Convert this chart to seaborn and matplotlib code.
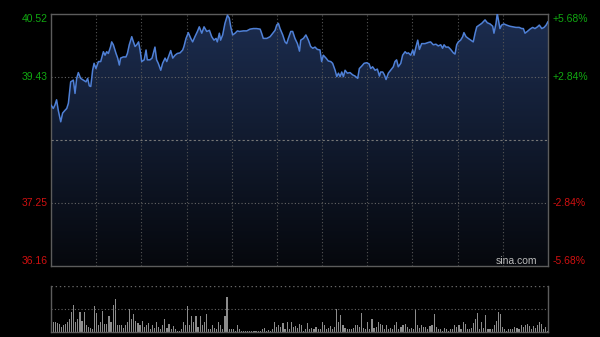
import numpy as np
import pandas as pd
import matplotlib
matplotlib.use("Agg")
import matplotlib.pyplot as plt
import seaborn as sns
from matplotlib.colors import LinearSegmentedColormap
import matplotlib.transforms as mtransforms

# ---------------- data ----------------
minutes = [
    0, 1.1, 1.9, 2.7, 3.5, 4.7, 5.6, 6.8, 7.6, 8.4,
    9.5, 10.8, 11.6, 12.4, 13.2, 14.3, 15.6, 16.9, 17.7, 18.5,
    19.2, 20.1, 20.8, 21.7, 22.9, 24.0, 25.3, 26.1, 26.9, 27.7,
    28.8, 29.3, 30.1, 31.4, 32.2, 33.0, 33.6, 34.9, 36.2, 36.9,
    37.8, 39.0, 39.8, 40.6, 41.4, 42.3, 43.0, 43.8, 45.0, 45.9,
    46.5, 47.8, 48.8, 49.4, 50.2, 51.0, 51.8, 53.0, 53.9, 55.1,
    55.9, 56.7, 57.8, 58.8, 59.9, 61.0, 62.3, 63.6, 64.2, 65.2,
    66.3, 67.5, 68.4, 69.5, 70.7, 71.6, 72.8, 73.9, 75.2, 76.5,
    77.6, 78.7, 79.7, 80.3, 81.3, 81.9, 82.9, 84.0, 85.2, 86.1,
    86.8, 87.7, 88.9, 90.0, 91.0, 92.9, 94.5, 96.1, 97.7, 99.3,
    101.0, 101.7, 102.5, 104.2, 105.8, 107.1, 108.2, 109.0, 109.8, 110.6,
    111.9, 113.0, 113.8, 114.6, 115.8, 116.7, 117.8, 119.0, 120.0,
    120.6, 121.9, 123.1, 124.3, 125.4, 126.4, 127.5, 128.6, 129.9, 130.7,
    131.5, 132.8, 133.9, 135.1, 136.0, 137.2, 138.0, 138.8, 139.6, 140.4,
    141.2, 142.0, 143.1, 144.4, 145.7, 146.8, 148.1, 148.9, 150.0, 151.2,
    152.4, 153.6, 154.4, 155.3, 156.5, 157.6, 158.6, 159.2, 160.2, 161.0,
    161.8, 162.9, 164.0, 165.3, 166.1, 166.9, 167.7, 168.9, 169.8, 171.0,
    171.8, 172.6, 173.7, 174.7, 175.3, 176.3, 177.1, 177.9, 179.0, 180.6,
    182.2, 183.3, 184.6, 185.9, 187.0, 188.2, 189.1, 189.8, 190.7, 191.9,
    193.0, 194.3, 195.1, 195.9, 196.7, 197.8, 198.8, 199.4, 200.4, 201.5,
    202.7, 203.9, 204.8, 205.6, 206.8, 208.0, 208.8, 209.6, 210.7, 212.0,
    213.3, 213.9, 214.9, 215.5, 216.2, 216.8, 217.6, 218.7, 220.0, 221.6,
    223.2, 224.5, 226.1, 227.3, 228.1, 228.9, 230.0, 231.3, 232.6, 233.7,
    234.9, 235.8, 237.0, 238.1, 239.1, 240.0,
]
prices = [
    38.94, 38.88, 38.94, 39.03, 38.85, 38.65, 38.80, 38.85, 38.88, 38.97,
    39.34, 39.37, 39.14, 39.40, 39.50, 39.40, 39.37, 39.34, 39.40, 39.27,
    39.26, 39.54, 39.66, 39.57, 39.69, 39.69, 39.86, 39.80, 39.86, 39.83,
    39.95, 40.03, 39.98, 39.83, 39.75, 39.63, 39.75, 39.77, 39.77, 39.83,
    39.98, 40.12, 40.03, 39.95, 39.98, 40.03, 39.89, 39.69, 39.72, 39.89,
    39.72, 39.72, 39.75, 39.83, 39.94, 39.72, 39.66, 39.54, 39.66, 39.75,
    39.69, 39.77, 39.88, 39.75, 39.80, 39.83, 39.84, 39.89, 39.95, 40.09,
    40.19, 40.09, 40.03, 40.12, 40.21, 40.29, 40.18, 40.29, 40.21, 40.23,
    40.12, 40.06, 40.09, 40.03, 40.18, 40.06, 40.15, 40.35, 40.49, 40.44,
    40.29, 40.15, 40.18, 40.22, 40.21, 40.22, 40.22, 40.25, 40.26, 40.26,
    40.25, 40.18, 40.09, 40.09, 40.12, 40.18, 40.23, 40.32, 40.35, 40.26,
    40.15, 40.03, 40.00, 40.09, 40.21, 40.21, 40.09, 40.00, 39.87,
    40.06, 40.09, 40.15, 40.06, 39.95, 39.92, 39.94, 39.90, 39.89, 39.69,
    39.80, 39.75, 39.70, 39.69, 39.66, 39.54, 39.43, 39.49, 39.43, 39.51,
    39.43, 39.54, 39.49, 39.50, 39.46, 39.44, 39.40, 39.57, 39.61, 39.66,
    39.67, 39.65, 39.57, 39.60, 39.54, 39.56, 39.44, 39.51, 39.51, 39.46,
    39.38, 39.49, 39.54, 39.60, 39.69, 39.72, 39.60, 39.66, 39.80, 39.86,
    39.83, 39.84, 39.80, 39.89, 39.80, 39.95, 40.06, 39.90, 40.00, 40.00,
    40.02, 40.03, 39.98, 39.99, 39.96, 39.98, 39.92, 39.98, 39.94, 39.94,
    39.90, 39.84, 39.82, 39.98, 40.03, 40.06, 40.12, 40.19, 40.12, 40.09,
    40.06, 40.03, 40.18, 40.29, 40.32, 40.35, 40.38, 40.41, 40.36, 40.34,
    40.30, 40.18, 40.35, 40.52, 40.38, 40.26, 40.32, 40.34, 40.32, 40.30,
    40.29, 40.28, 40.28, 40.26, 40.26, 40.18, 40.21, 40.25, 40.28, 40.26,
    40.29, 40.32, 40.26, 40.28, 40.32, 40.38,
]

vol_minutes = list(range(241))
volumes = [
    25, 22, 21, 20, 17, 10, 14, 17, 21, 28, 43,
    59, 22, 29, 43, 24, 42, 14, 10, 8, 7,
    55, 41, 15, 22, 45, 17, 17, 35, 21, 59,
    71, 15, 14, 15, 8, 15, 21, 49, 28, 38,
    24, 20, 14, 24, 10, 15, 20, 7, 14, 8,
    22, 10, 7, 15, 27, 8, 17, 7, 13, 7,
    3, 3, 6, 21, 14, 55, 14, 35, 21, 35,
    10, 35, 15, 22, 38, 7, 7, 15, 8, 6,
    22, 15, 6, 34, 76, 7, 7, 6, 3, 15,
    7, 3, 3, 3, 3, 3, 3, 3, 3, 3,
    3, 6, 8, 3, 4, 3, 7, 22, 10, 14,
    10, 20, 7, 21, 7, 21, 10, 13, 8, 17,
    14, 3, 7, 20, 7, 8, 6, 10, 7, 6,
    21, 14, 7, 8, 13, 7, 10, 50, 22, 37,
    14, 8, 7, 6, 7, 8, 14, 15, 10, 41,
    8, 7, 21, 7, 27, 8, 10, 22, 17, 15,
    7, 14, 7, 8, 6, 15, 22, 6, 10, 15,
    17, 10, 6, 8, 7, 50, 14, 8, 15, 10,
    10, 7, 13, 15, 38, 10, 7, 7, 3, 8,
    7, 3, 7, 6, 15, 10, 15, 7, 21, 17,
    7, 6, 8, 20, 29, 41, 7, 22, 8, 36,
    7, 6, 7, 14, 24, 42, 38, 10, 7, 3,
    6, 7, 6, 10, 8, 7, 14, 10, 15, 17,
    13, 7, 13, 8, 15, 21, 17, 7, 10, 3,
]

prev_close = 38.34
price_ticks = [36.16, 37.25, 39.43, 40.52]
price_labels = ["36.16", "37.25", "39.43", "40.52"]
pct_labels = ["-5.68%", "-2.84%", "+2.84%", "+5.68%"]
session_minutes = 240
n_vgrid = 11

price_df = pd.DataFrame({"minute": minutes, "price": prices})
vol_df = pd.DataFrame({"minute": vol_minutes, "volume": volumes})

# ---------------- style ----------------
sns.set_theme(style="dark")
plt.rcParams.update({
    "figure.facecolor": "black",
    "axes.facecolor": "black",
    "savefig.facecolor": "black",
    "font.family": ["Liberation Sans", "DejaVu Sans"],
})

fig = plt.figure(figsize=(6.0, 3.37), dpi=100)
ax = fig.add_axes([51 / 600, 1 - 266 / 337, 497 / 600, (266 - 13.5) / 337])
axv = fig.add_axes([51 / 600, 1 - 332 / 337, 497 / 600, (332 - 285.5) / 337])

ymin, ymax = price_ticks[0], price_ticks[-1]

# gradient fill under the price line
poly = ax.fill_between(price_df["minute"], price_df["price"], ymin,
                       color="none", lw=0)
cmap = LinearSegmentedColormap.from_list("fill", ["#06080d", "#1c2d50"])
grad = np.linspace(0, 1, 256).reshape(-1, 1)
im = ax.imshow(grad, extent=[0, session_minutes, ymin, ymax], aspect="auto",
               cmap=cmap, origin="lower", zorder=1)
im.set_clip_path(poly.get_paths()[0], ax.transData)

sns.lineplot(data=price_df, x="minute", y="price", ax=ax, color="#4f80d6",
             lw=1.1, zorder=4)

ax.set_xlim(0, session_minutes)
ax.set_ylim(ymin, ymax)

grid_kw = dict(color="#555555", lw=0.8, ls=(0, (1, 2)), zorder=3)
for k in range(1, n_vgrid):
    ax.axvline(session_minutes * k / n_vgrid, **grid_kw)
for t in price_ticks[1:3]:
    ax.axhline(t, color="#666666", lw=0.8, ls=(0, (1, 2)), zorder=3)
ax.axhline(prev_close, color="#777777", lw=0.8, ls=(0, (2, 2)), zorder=3)

ax.set_xticks([])
ax.set_yticks([])
ax.set_xlabel("")
ax.set_ylabel("")
ax.grid(False)
for s in ax.spines.values():
    s.set_visible(True)
    s.set_color("#5c5c5c")
    s.set_linewidth(1.0)

# tick labels as text
trans_l = mtransforms.blended_transform_factory(fig.transFigure, ax.transData)
for i, (t, lab, pl) in enumerate(zip(price_ticks, price_labels, pct_labels)):
    col = "#11a811" if t > prev_close else "#d01010"
    va = "bottom" if i == 0 else ("top" if i == len(price_ticks) - 1 else "center")
    ax.text(48 / 600, t, lab, transform=trans_l, ha="right", va=va,
            color=col, fontsize=7.5)
    ax.text(553 / 600, t, pl, transform=trans_l, ha="left", va=va,
            color=col, fontsize=7.5)

ax.text(0.979, 0.0, "sina.com", transform=ax.transAxes, ha="right",
        va="bottom", color="#bbbbbb", fontsize=7.5, zorder=6)

# ---------------- volume ----------------
sns.barplot(data=vol_df, x="minute", y="volume", ax=axv, native_scale=True,
            color="#8c8c8c", width=0.55, saturation=1, edgecolor="none")
axv.set_xlim(0, session_minutes)
axv.set_ylim(0, 100)
axv.axhline(50, color="#666666", lw=0.8, ls=(0, (1, 2)))
axv.axhline(100, color="#666666", lw=1.0, ls=(0, (1, 2)))
axv.set_xticks([])
axv.set_yticks([])
axv.set_xlabel("")
axv.set_ylabel("")
axv.grid(False)
for name, s in axv.spines.items():
    s.set_visible(name != "top")
    s.set_color("#5c5c5c")
    s.set_linewidth(1.0)

fig.savefig("out.png", dpi=100, facecolor="black")
